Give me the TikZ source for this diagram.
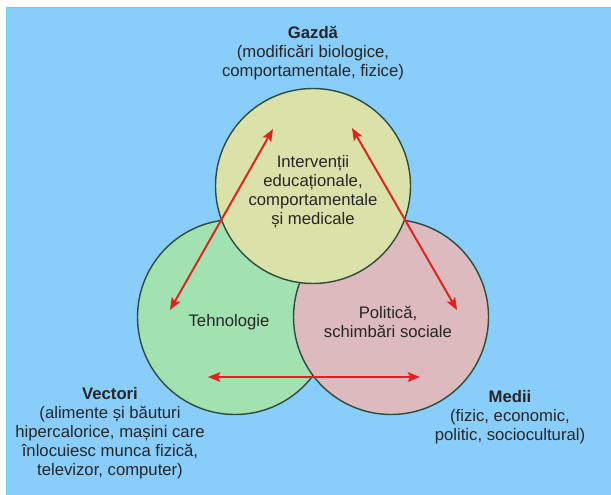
\documentclass[tikz,border=0pt]{standalone}
\usepackage{fontspec}
\setmainfont{Liberation Sans}
\usetikzlibrary{arrows.meta}
\definecolor{bgblue}{RGB}{137,205,250}
\definecolor{bgrim}{RGB}{90,215,240}
\definecolor{gazda}{RGB}{218,226,170}
\definecolor{tehno}{RGB}{162,225,176}
\definecolor{polit}{RGB}{221,186,190}
\definecolor{rim}{RGB}{45,78,60}
\definecolor{arrred}{RGB}{230,30,30}
\tikzset{
  zone/.style={draw=rim, line width=0.8pt},
  link/.style={arrred, line width=1.1pt,
    {Stealth[length=7pt,width=5.5pt,inset=1.5pt]}-{Stealth[length=7pt,width=5.5pt,inset=1.5pt]}},
  txt/.style={align=center, font=\fontsize{9.5}{10.8}\selectfont, text=black!85}
}
\begin{document}
\begin{tikzpicture}
    \useasboundingbox (0, 0) rectangle (12.22, 9.88);
    \draw[bgrim, fill=bgblue, line width=0.6pt] (0.13, -0.1) rectangle (12.4, 9.73);
    % the three circles
    \draw[zone, fill=tehno] (4.70, 3.54) circle (1.95);
    \draw[zone, fill=polit] (7.82, 3.54) circle (1.95);
    \draw[zone, fill=gazda] (6.26, 6.16) circle (1.95);
    % texts
    \node[txt] (gazda) at (6.26, 8.82) {\textbf{Gazdă}\\(modificări biologice,\\comportamentale, fizice)};
    \node[txt] (interv) at (6.26, 6.05) {Intervenții\\educaționale,\\comportamentale\\și medicale};
    \node[txt] (tehnologie) at (4.58, 3.44) {Tehnologie};
    \node[txt] (politica) at (7.76, 3.45) {Politică,\\schimbări sociale};
    \node[txt] (vectori) at (2.20, 1.22) {\textbf{Vectori}\\(alimente și băuturi\\hipercalorice, mașini care\\înlocuiesc munca fizică,\\televizor, computer)};
    \node[txt] (medii) at (10.20, 1.54) {\textbf{Medii}\\(fizic, economic,\\politic, sociocultural)};
    % arrows
    \coordinate (g1) at (5.46, 7.30);
    \coordinate (t1) at (3.40, 3.68);
    \coordinate (g2) at (7.04, 7.32);
    \coordinate (p1) at (9.14, 3.68);
    \coordinate (t2) at (4.16, 2.34);
    \coordinate (p2) at (8.40, 2.34);
    \draw[link] (g1) -- (t1);
    \draw[link] (g2) -- (p1);
    \draw[link] (t2) -- (p2);
\end{tikzpicture}
\end{document}
